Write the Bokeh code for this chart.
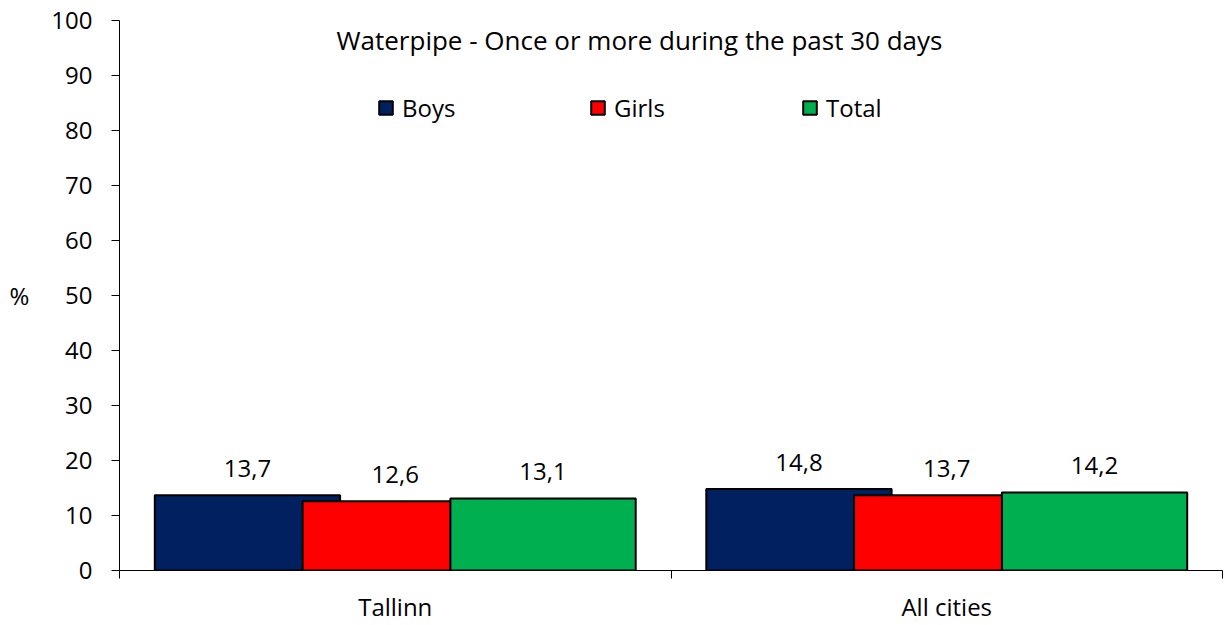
from bokeh.plotting import figure
from bokeh.models import (Range1d, LinearAxis, FixedTicker,
                          ColumnDataSource, Legend, LegendItem, Label)
from bokeh.transform import dodge
from bokeh.core.properties import value
from bokeh.embed import file_html
from bokeh.resources import INLINE

# ---- data ----
cities = ["Tallinn", "All cities"]
boys = [13.7, 14.8]
girls = [12.6, 13.7]
total = [13.1, 14.2]
series_names = ["Boys", "Girls", "Total"]
colors = ["#002060", "#FF0000", "#00B050"]
title_text = "Waterpipe - Once or more during the past 30 days"
y_ticks = list(range(0, 101, 10))
y_label = "%"

FONT = "Open Sans"
FS = "24px"

n = len(cities)
centers = [i + 0.5 for i in range(n)]

p = figure(width=1226, height=625, output_backend="svg", toolbar_location=None,
           x_range=Range1d(0, n), y_range=Range1d(0, 100), x_axis_location=None,
           min_border_left=119, min_border_right=4, min_border_top=20, min_border_bottom=55)
p.outline_line_color = None
p.xgrid.visible = False
p.ygrid.visible = False
p.background_fill_color = "white"
p.border_fill_color = "white"

# y axis
ya = p.yaxis[0]
ya.ticker = FixedTicker(ticks=y_ticks)
ya.axis_line_color = "black"
ya.major_tick_line_color = "black"
ya.major_tick_out = 8
ya.major_tick_in = 0
ya.minor_tick_line_color = None
ya.major_label_text_font = FONT
ya.major_label_text_font_size = FS
ya.major_label_text_color = "black"
ya.major_label_standoff = 19
ya.axis_label = y_label
ya.axis_label_orientation = "horizontal"
ya.axis_label_text_font = FONT
ya.axis_label_text_font_size = FS
ya.axis_label_text_font_style = "normal"
ya.axis_label_text_color = "black"
ya.axis_label_standoff = 19

# x axis: boundary ticks
bounds = list(range(n + 1))
xa1 = LinearAxis(ticker=FixedTicker(ticks=bounds),
                 major_label_overrides={b: "" for b in bounds},
                 major_tick_out=8, major_tick_in=0, minor_tick_line_color=None,
                 axis_line_color="black", major_tick_line_color="black",
                 major_label_standoff=0, major_label_text_font_size="1px")
p.add_layout(xa1, "below")
# x axis: category labels
xa2 = LinearAxis(ticker=FixedTicker(ticks=centers),
                 major_label_overrides={c: name for c, name in zip(centers, cities)},
                 axis_line_color=None, major_tick_line_color=None,
                 minor_tick_line_color=None, major_label_standoff=5,
                 major_label_text_font=FONT, major_label_text_font_size=FS,
                 major_label_text_color="black")
p.add_layout(xa2, "below")

offsets = [-0.268, 0.0, 0.268]
bar_w = 0.336
items = []
for name, vals, col, off in zip(series_names, [boys, girls, total], colors, offsets):
    src = ColumnDataSource(dict(xc=centers, val=vals,
                                lab=[f"{v:.1f}".replace(".", ",") for v in vals]))
    r = p.vbar(x=dodge("xc", off), top="val", width=bar_w, source=src,
               fill_color=col, line_color="black", line_width=2)
    items.append(LegendItem(label=name, renderers=[r]))
    p.text(x=dodge("xc", off), y="val", text="lab", source=src,
           text_align="center", text_baseline="middle", y_offset=-27,
           text_font=value(FONT), text_font_size=FS, text_color="black")

legend = Legend(items=items, orientation="horizontal", location=(258, 446),
                padding=0, margin=0, spacing=0, glyph_width=17, glyph_height=17,
                label_width=187, label_height=17, label_standoff=8,
                border_line_color=None, background_fill_alpha=0,
                label_text_font=FONT, label_text_font_size=FS, label_text_color="black")
p.add_layout(legend)

title = Label(x=520, y=531, x_units="screen", y_units="screen", text=title_text,
              text_align="center", text_baseline="middle", text_font=FONT,
              text_font_size="26px", text_color="black")
p.add_layout(title)

open("out.html", "w").write(file_html(p, INLINE))
